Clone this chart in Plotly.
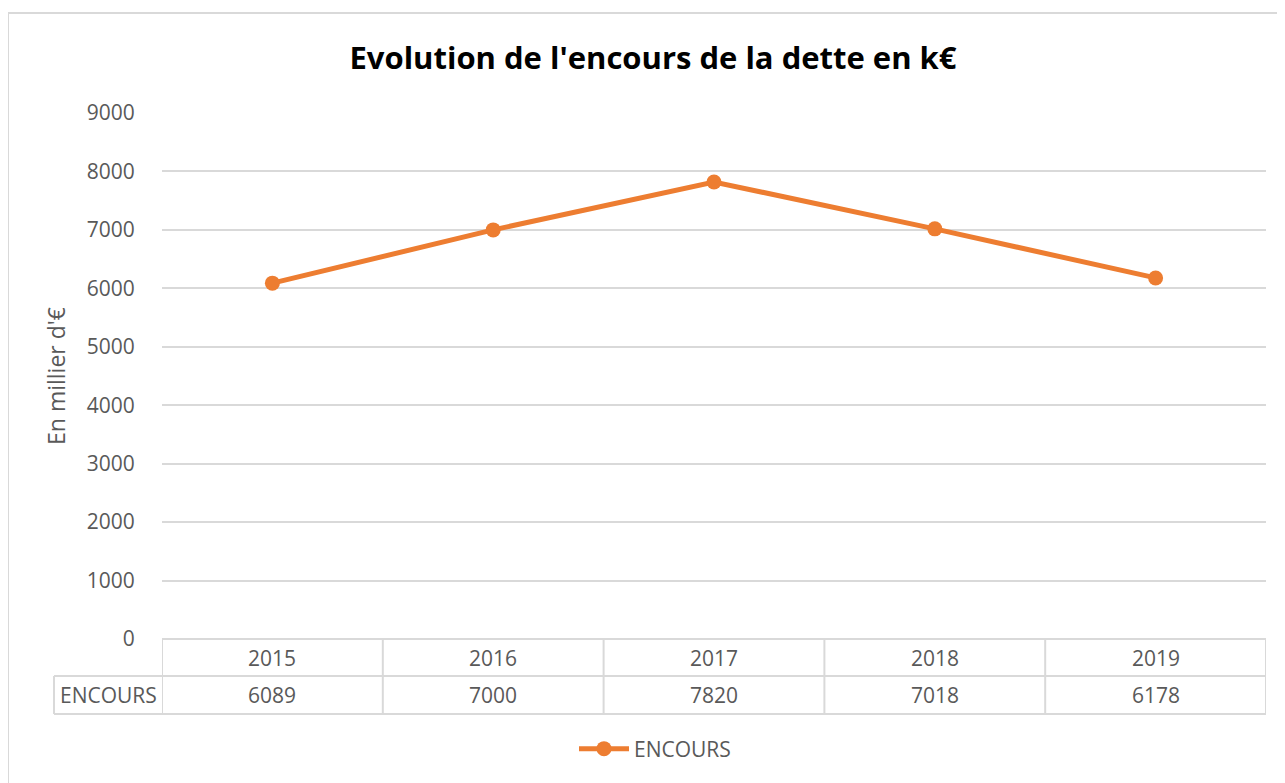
import plotly.graph_objects as go

years = ["2015", "2016", "2017", "2018", "2019"]
encours = [6089, 7000, 7820, 7018, 6178]
series_name = "ENCOURS"
title_text = "Evolution de l'encours de la dette en k€"
y_title = "En millier d'€"

OFF = 8  # page body margin
W, H = 1285 - OFF, 783 - OFF
L, R, T, B = 162 - OFF, 1266 - OFF, 113 - OFF, 639 - OFF  # plot area in pixels
ORANGE = "#ED7D31"
GRID = "#d9d9d9"
TXT = "#595959"
FONT = "Open Sans"
FS = 21

def px(x):
    return (x - OFF - L) / (R - L)

def py(y):
    return (B - (y - OFF)) / (B - T)

fig = go.Figure()
fig.add_trace(go.Scatter(
    x=list(range(len(years))), y=encours, name=series_name,
    mode="lines+markers",
    line=dict(color=ORANGE, width=5),
    marker=dict(color=ORANGE, size=15),
))

shapes = []
line = dict(color=GRID, width=2)
# outer chart border
shapes.append(dict(type="rect", xref="paper", yref="paper",
                   x0=px(8), x1=px(1300), y0=py(800), y1=py(13),
                   line=dict(color="#d9d9d9", width=2), layer="below"))
# data table lines
row1, row2, row3 = 639, 676, 714
shapes.append(dict(type="line", xref="paper", yref="paper", x0=px(162), x1=px(1266), y0=py(row1), y1=py(row1), line=line))
shapes.append(dict(type="line", xref="paper", yref="paper", x0=px(54), x1=px(1266), y0=py(row2), y1=py(row2), line=line))
shapes.append(dict(type="line", xref="paper", yref="paper", x0=px(54), x1=px(1266), y0=py(row3), y1=py(row3), line=line))
shapes.append(dict(type="line", xref="paper", yref="paper", x0=px(54), x1=px(54), y0=py(row2), y1=py(row3), line=line))
for i in range(len(years) + 1):
    shapes.append(dict(type="line", xref="x", yref="paper", x0=i - 0.5, x1=i - 0.5,
                       y0=py(row1), y1=py(row3), line=line))

ann = []
tf = dict(family=FONT, size=FS, color=TXT)
for i, (yr, v) in enumerate(zip(years, encours)):
    ann.append(dict(x=i, y=py((row1 + row2) / 2), xref="x", yref="paper", text=yr,
                    xanchor="center", yanchor="middle", showarrow=False, font=tf))
    ann.append(dict(x=i, y=py((row2 + row3) / 2), xref="x", yref="paper", text=str(v),
                    xanchor="center", yanchor="middle", showarrow=False, font=tf))
ann.append(dict(x=px(108), y=py((row2 + row3) / 2), xref="paper", yref="paper", text=series_name,
                xanchor="center", yanchor="middle", showarrow=False, font=tf))

fig.update_layout(
    width=W, height=H,
    margin=dict(l=L, r=W - R, t=T, b=H - B, pad=0),
    paper_bgcolor="white", plot_bgcolor="white",
    title=dict(text=f"<b>{title_text}</b>", x=(653 - OFF) / W, xref="container", xanchor="center",
               y=1 - (58 - OFF) / H, yref="container", yanchor="middle",
               font=dict(family=FONT, size=31, color="black")),
    xaxis=dict(range=[-0.5, 4.5], showticklabels=False, showgrid=False, zeroline=False,
               showline=False, fixedrange=True),
    yaxis=dict(range=[0, 9000], dtick=1000, showgrid=True, gridcolor=GRID, gridwidth=2,
               zeroline=False, showline=False, ticks="outside", ticklen=22,
               tickcolor="rgba(0,0,0,0)",
               tickfont=tf,
               title=dict(text=y_title, font=dict(family=FONT, size=23, color=TXT), standoff=14)),
    showlegend=True,
    legend=dict(orientation="h", xref="container", x=(655 - OFF) / W, xanchor="center",
                yref="container", y=1 - (749 - OFF) / H, yanchor="middle",
                font=tf, itemwidth=50),
    shapes=shapes, annotations=ann,
)

fig.write_html("out.html")
